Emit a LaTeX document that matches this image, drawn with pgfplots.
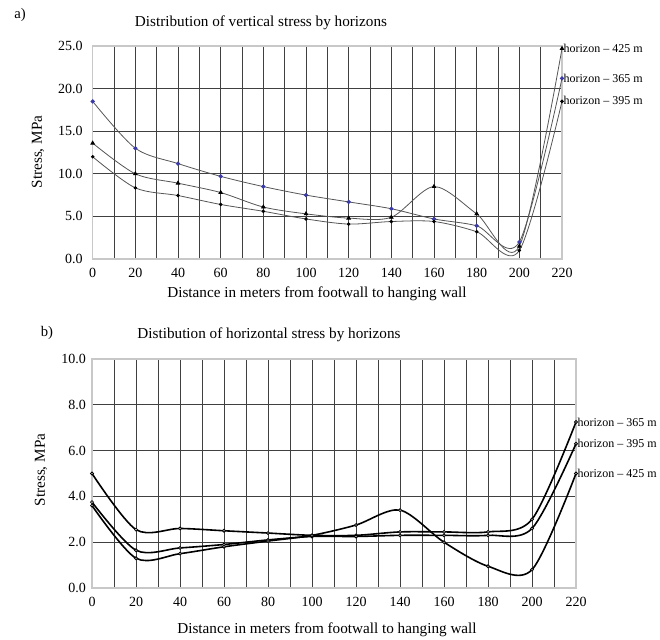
\documentclass[border=0pt]{standalone}
\usepackage{fontspec}
\setmainfont{Liberation Serif}
\usepackage{pgfplots}
\pgfplotsset{compat=1.18}
\definecolor{gridc}{HTML}{404040}
\definecolor{framec}{HTML}{C8C8C8}
\definecolor{linec}{HTML}{555555}
\definecolor{bluem}{HTML}{3A3AA8}
\pgfplotsset{
  base/.style={
    scale only axis,
    anchor=south west,
    clip=false,
    xmin=0, xmax=220,
    xtick={0,20,...,220},
    minor x tick num=1,
    grid=both,
    major grid style={draw=gridc, line width=0.7pt},
    minor grid style={draw=gridc, line width=0.7pt},
    axis line style={draw=framec, line width=1.2pt},
    major tick length=0pt, minor tick length=0pt,
    tick label style={font=\fontsize{10.5}{12}\selectfont},
    /pgf/number format/assume math mode=true,
    yticklabel style={/pgf/number format/fixed, /pgf/number format/fixed zerofill, /pgf/number format/precision=1},
    xticklabel style={yshift=-3pt},
  },
}
\tikzset{leg/.style={anchor=west, font=\fontsize{9}{10}\selectfont, inner sep=1pt}}
\begin{document}
\begin{tikzpicture}
\path[use as bounding box] (0pt,0pt) rectangle (495pt,-479.25pt);

% ---------------- top chart ----------------
\node[font=\fontsize{11}{13}\selectfont] at (15pt,-11.25pt) {a)};
\node[font=\fontsize{11.4}{13}\selectfont] at (195.75pt,-17.25pt) {Distribution of vertical stress by horizons};
\begin{axis}[base,
  at={(69.5pt,-194.25pt)},
  width=352pt, height=159.75pt,
  ymin=0, ymax=25, ytick={0,5,...,25},
  yticklabel style={xshift=-4pt},
]
% horizon 365 m
\addplot[linec, line width=0.6pt, smooth, mark=*, mark size=1.3pt,
  mark options={fill=bluem, draw=bluem}] coordinates {
  (0,18.5) (20,13.0) (40,11.2) (60,9.7) (80,8.5) (100,7.5) (120,6.7)
  (140,5.9) (160,4.7) (180,3.9) (200,2.0) (220,21.2)};
% horizon 425 m
\addplot[linec, line width=0.6pt, smooth, mark=triangle*, mark size=1.5pt,
  mark options={fill=black, draw=black}] coordinates {
  (0,13.6) (20,10.0) (40,8.9) (60,7.8) (80,6.1) (100,5.3) (120,4.8)
  (140,4.9) (160,8.5) (180,5.3) (200,1.5) (220,24.7)};
% horizon 395 m
\addplot[linec, line width=0.6pt, smooth, mark=*, mark size=1.0pt,
  mark options={fill=black, draw=black}] coordinates {
  (0,12.0) (20,8.35) (40,7.45) (60,6.4) (80,5.6) (100,4.7) (120,4.1)
  (140,4.4) (160,4.4) (180,3.2) (200,1.0) (220,18.5)};
\node[leg] at (axis cs:220,24.7) {horizon – 425 m};
\node[leg] at (axis cs:220,21.2) {horizon – 365 m};
\node[leg] at (axis cs:220,18.6) {horizon – 395 m};
\end{axis}
\node[font=\fontsize{11.4}{13}\selectfont] at (237.75pt,-220.5pt) {Distance in meters from footwall to hanging wall};
\node[font=\fontsize{11.4}{13}\selectfont, rotate=90] at (28.5pt,-114pt) {Stress, MPa};

% ---------------- bottom chart ----------------
\node[font=\fontsize{11}{13}\selectfont] at (35.25pt,-249.75pt) {b)};
\node[font=\fontsize{11.4}{13}\selectfont] at (201.75pt,-251.25pt) {Distibution of horizontal stress by horizons};
\begin{axis}[base,
  at={(69pt,-441pt)},
  width=363pt, height=171.75pt,
  ymin=0, ymax=10, ytick={0,2,...,10},
  yticklabel style={xshift=-1pt},
]
% horizon 365 m
\addplot[black, line width=1.2pt, smooth, mark=*, mark size=1.1pt,
  mark options={fill=white, draw=black, line width=0.6pt}] coordinates {
  (0,5.0) (20,2.55) (40,2.6) (60,2.5) (80,2.4) (100,2.3) (120,2.3)
  (140,2.45) (160,2.45) (180,2.45) (200,3.0) (220,7.25)};
% horizon 395 m
\addplot[black, line width=1.2pt, smooth, mark=*, mark size=1.1pt,
  mark options={fill=white, draw=black, line width=0.6pt}] coordinates {
  (0,3.75) (20,1.65) (40,1.75) (60,1.9) (80,2.1) (100,2.25) (120,2.25)
  (140,2.3) (160,2.3) (180,2.3) (200,2.6) (220,6.3)};
% horizon 425 m
\addplot[black, line width=1.2pt, smooth, mark=*, mark size=1.1pt,
  mark options={fill=white, draw=black, line width=0.6pt}] coordinates {
  (0,3.6) (20,1.3) (40,1.5) (60,1.8) (80,2.05) (100,2.3) (120,2.75)
  (140,3.4) (160,2.0) (180,0.95) (200,0.8) (220,5.0)};
\node[leg] at (axis cs:220,7.25) {horizon – 365 m};
\node[leg] at (axis cs:220,6.3) {horizon – 395 m};
\node[leg] at (axis cs:220,5.0) {horizon – 425 m};
\end{axis}
\node[font=\fontsize{11.4}{13}\selectfont] at (245.25pt,-472.5pt) {Distance in meters from footwall to hanging wall};
\node[font=\fontsize{11.4}{13}\selectfont, rotate=90] at (30.75pt,-352.5pt) {Stress, MPa};
\end{tikzpicture}
\end{document}
